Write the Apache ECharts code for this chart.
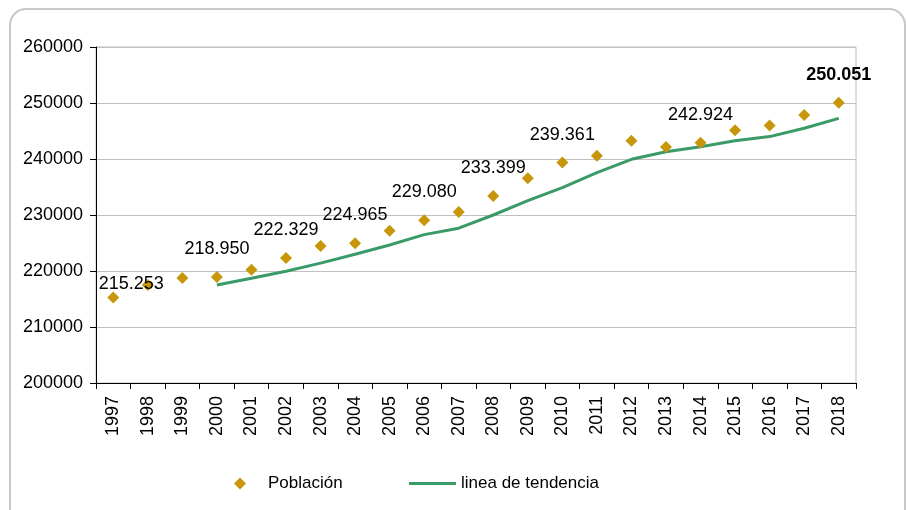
<!DOCTYPE html>
<html>
<head>
<meta charset="utf-8">
<script src="https://cdn.jsdelivr.net/npm/echarts@6/dist/echarts.min.js"></script>
<style>
html,body{margin:0;padding:0;background:#fff;}
#c{width:906px;height:510px;}
</style>
</head>
<body>
<div id="c"></div>
<script>
const years = ['1997','1998','1999','2000','2001','2002','2003','2004','2005','2006','2007','2008','2009','2010','2011','2012','2013','2014','2015','2016','2017','2018'];
const poblacion = [215253,217500,218750,218950,220230,222329,224460,224965,227200,229080,230540,233399,236550,239361,240600,243270,242140,242924,245120,246000,247850,250051];
const tendencia = [null,null,null,217500,218700,219950,221400,223000,224650,226500,227650,230000,232550,234900,237550,239950,241300,242200,243250,244000,245500,247250];
const labeledYears = ['1997','2000','2002','2004','2006','2008','2010','2014','2018'];
const yTicks = {min:200000, max:260000, interval:10000};

const gold = '#C8960A';
const green = '#3A9A68';
const font = 'Liberation Sans, Arial, sans-serif';

function fmt(v){ return String(v).replace(/(\d{3})$/, '.$1'); }

const popData = poblacion.map((v,i)=>{
  const y = years[i];
  if (labeledYears.indexOf(y) < 0) return v;
  const item = {value:v, label:{show:true, formatter: fmt(v)}};
  if (y === '1997') item.label.offset = [18, 14];
  if (y === '2018') item.label.fontWeight = 'bold';
  return item;
});

const chart = echarts.init(document.getElementById('c'));
chart.setOption({
  animation:false,
  backgroundColor:'#fff',
  graphic:[{
    type:'rect', z:-10,
    shape:{x:10, y:9, width:895, height:530, r:16},
    style:{fill:'none', stroke:'#c8c8c8', lineWidth:2}
  }],
  grid:{left:96, right:50, top:47, bottom:127, show:true, borderColor:'#c0c0c0', borderWidth:1},
  legend:[{
    data:['Población'], left:229, top:470, icon:'diamond', itemWidth:12, itemHeight:12,
    textStyle:{fontFamily:font, fontSize:17, color:'#000', padding:[0,0,0,17]}
  },{
    data:['linea de tendencia'], left:404, top:470, icon:'rect', itemWidth:47, itemHeight:3,
    textStyle:{fontFamily:font, fontSize:17, color:'#000'}
  }],
  xAxis:{
    type:'category', data:years, boundaryGap:true,
    axisLine:{lineStyle:{color:'#000', width:1}},
    axisTick:{show:true, inside:false, length:6, lineStyle:{color:'#000'}},
    axisLabel:{rotate:90, margin:13, fontFamily:font, fontSize:18, color:'#000'},
    splitLine:{show:false}
  },
  yAxis:{
    type:'value', min:yTicks.min, max:yTicks.max, interval:yTicks.interval,
    axisLine:{show:true, lineStyle:{color:'#000', width:1}},
    axisTick:{show:true, length:6, lineStyle:{color:'#000'}},
    axisLabel:{margin:13, fontFamily:font, fontSize:18, color:'#000', formatter:(v)=>String(v)},
    splitLine:{show:true, lineStyle:{color:'#c0c0c0', width:1}}
  },
  series:[{
    name:'Población', type:'scatter', data:popData,
    symbol:'diamond', symbolSize:12,
    itemStyle:{color:gold, opacity:1},
    label:{show:false, position:'top', distance:13, fontFamily:font, fontSize:18, color:'#000'},
    z:3
  },{
    name:'linea de tendencia', type:'line', data:tendencia,
    symbol:'none', connectNulls:false,
    lineStyle:{color:green, width:3},
    itemStyle:{color:green},
    z:2
  }]
});
</script>
</body>
</html>
